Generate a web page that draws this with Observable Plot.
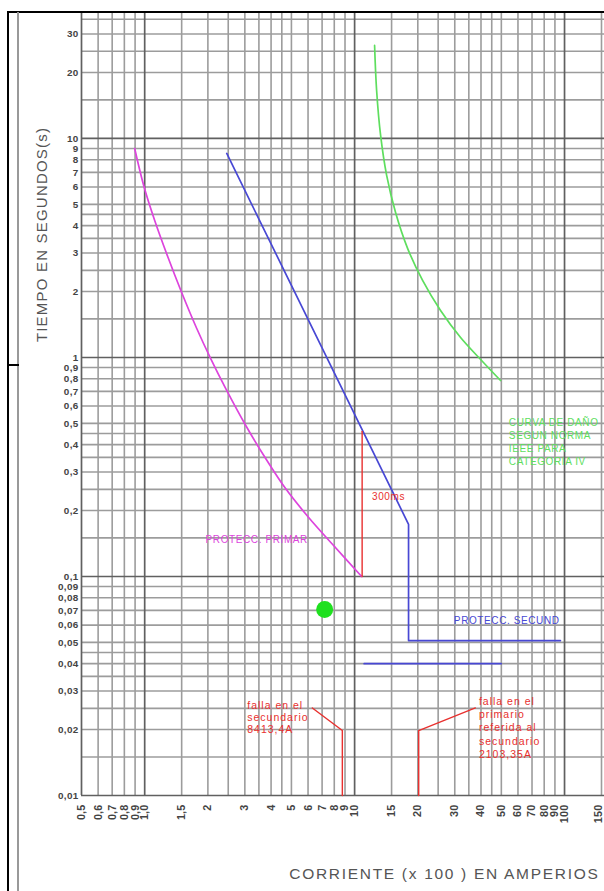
<!DOCTYPE html>
<html><head><meta charset="utf-8">
<script src="https://cdn.jsdelivr.net/npm/d3@7"></script>
<script src="https://cdn.jsdelivr.net/npm/@observablehq/plot@0.6"></script>
<style>
html,body{margin:0;padding:0;background:#fff;}
#wrap{position:relative;width:604px;height:891px;overflow:hidden;background:#fff;}
#wrap svg{position:absolute;left:0;top:0;}
.deco{position:absolute;}
svg g[aria-label="text"] text{letter-spacing:0.6px;}
svg g[aria-label="text"][font-size="10.5"] text{letter-spacing:1px;}
svg g[aria-label="text"][font-size="15"] text{letter-spacing:1.2px;}
svg g[aria-label="text"][font-size="15.5"] text{letter-spacing:1.7px;}
svg g[aria-label="text"][font-size="10.8"] text{letter-spacing:0.2px;}
svg g[aria-label="text"][font-size="9.9"] text{letter-spacing:0.3px;}
</style></head><body>
<div id="wrap">
  <div class="deco" style="left:8px;top:11px;width:596px;height:2px;background:#000"></div>
  <div class="deco" style="left:7px;top:11px;width:2px;height:880px;background:#000"></div>
  <div class="deco" style="left:17px;top:12px;width:2px;height:879px;background:#999"></div>
  <div class="deco" style="left:8px;top:364px;width:11px;height:2px;background:#000"></div>
</div>
<script>
// ---- axis ticks ----
const xTicks = [0.5,0.6,0.7,0.8,0.9,1,1.5,2,3,4,5,6,7,8,9,10,15,20,30,40,50,60,70,80,90,100,150];
const xTickLabels = ["0,5","0,6","0,7","0,8","0,9","1,0","1,5","2","3","4","5","6","7","8","9","10","15","20","30","40","50","60","70","80","90","100","150"];
const yTicks = [0.01,0.02,0.03,0.04,0.05,0.06,0.07,0.08,0.09,0.1,0.2,0.3,0.4,0.5,0.6,0.7,0.8,0.9,1,2,3,4,5,6,7,8,9,10,20,30];
const yTickLabels = ["0,01","0,02","0,03","0,04","0,05","0,06","0,07","0,08","0,09","0,1","0,2","0,3","0,4","0,5","0,6","0,7","0,8","0,9","1","2","3","4","5","6","7","8","9","10","20","30"];

// ---- log paper grid ----
const gridMajorX = [0.5,1,10,100];
const gridMinorX = [0.6,0.7,0.8,0.9,1.5,2,2.5,3,3.5,4,4.5,5,6,7,8,9,15,20,25,30,35,40,45,50,60,70,80,90,150];
const gridMajorY = [0.01,0.1,1,10];
const gridMinorY = [0.015,0.02,0.025,0.03,0.035,0.04,0.045,0.05,0.06,0.07,0.08,0.09,
                    0.15,0.2,0.25,0.3,0.35,0.4,0.45,0.5,0.6,0.7,0.8,0.9,
                    1.5,2,2.5,3,3.5,4,4.5,5,6,7,8,9,15,20,25,30,35];

// ---- curves (corriente x100 A, tiempo s) ----
const primaryI = [0.896, 0.989, 1.116, 1.287, 1.50, 1.77, 2.06, 2.43, 3.03, 3.77, 4.69, 6.04, 7.94, 10.8];
const primaryT = [9.0, 6.10, 4.22, 2.89, 1.98, 1.356, 0.99, 0.722, 0.489, 0.346, 0.252, 0.186, 0.1385, 0.1];

const secondaryI = [2.46, 18.07, 18.07, 95.6];
const secondaryT = [8.54, 0.173, 0.051, 0.051];
const secondary2I = [11.1, 49.9];
const secondary2T = [0.040, 0.040];

const damageI = [12.45, 12.73, 13.30, 14.21, 15.67, 17.88, 21.08, 25.67, 31.97, 40.25, 49.57];
const damageT = [26.6, 16.56, 10.32, 6.78, 4.59, 3.15, 2.25, 1.64, 1.234, 0.969, 0.785];

const marginI = [10.86, 10.86];
const marginT = [0.1, 0.46];

const fault1I = [6.29, 8.74, 8.74];
const fault1T = [0.0251, 0.0198, 0.01];
const fault2I = [37.6, 20.2, 20.2];
const fault2T = [0.0251, 0.0198, 0.01];

const pointI = [7.2];
const pointT = [0.0707];

// ---- annotations ----
const noteText = ["PROTECC. PRIMAR", "300ms", "PROTECC. SECUND",
  "CURVA DE DAÑO\nSEGUN NORMA\nIEEE PARA\nCATEGORIA IV",
  "falla en el\nsecundario\n8413,4A",
  "falla en el\nprimario\nreferida al\nsecundario\n2103,35A"];
const noteI = [1.95, 12.1, 29.7, 54.3, 3.08, 39.1];
const noteT = [0.1476, 0.232, 0.063, 0.4126, 0.0227, 0.0205];

const yTitle = "TIEMPO EN SEGUNDOS(s)";
const xTitle = "CORRIENTE (x 100 ) EN AMPERIOS";

const pts = (I, T) => I.map((v, i) => ({I: v, t: T[i]}));
const notes = noteText.map((s, i) => ({text: s, I: noteI[i], t: noteT[i]}));
const xTickData = xTicks.map((v, i) => ({v, label: xTickLabels[i], last: i === xTicks.length - 1}));

const MAG = "#dd44dd", BLUE = "#4848d4", GREEN = "#5ede5e", RED = "#e8302e";
const XTICK = {fontSize: 10.8, fontWeight: "bold", fill: "#444"};
const YTICK = {fontSize: 9.9, fontWeight: "bold", fill: "#444"};

const plot = Plot.plot({
  width: 604, height: 891,
  marginLeft: 81, marginTop: 12, marginRight: 0, marginBottom: 96,
  style: {fontFamily: "'Liberation Sans', Arial, sans-serif", background: "transparent", overflow: "visible"},
  x: {type: "log", domain: [0.5, 150], range: [81, 601], axis: null},
  y: {type: "log", domain: [0.01, 37.6], axis: null},
  marks: [
    Plot.ruleX(gridMinorX, {stroke: "#9c9c9c", strokeWidth: 1.6}),
    Plot.ruleY(gridMinorY, {stroke: "#9c9c9c", strokeWidth: 1.6}),
    Plot.ruleX(gridMajorX, {stroke: "#606060", strokeWidth: 1.7}),
    Plot.ruleY(gridMajorY, {stroke: "#606060", strokeWidth: 1.7}),
    Plot.text(xTickData.filter(d => !d.last), {x: "v", text: "label", frameAnchor: "bottom", dy: 9,
      rotate: -90, textAnchor: "end", lineAnchor: "middle", ...XTICK}),
    Plot.text(xTickData.filter(d => d.last), {x: "v", text: "label", frameAnchor: "bottom", dy: 9,
      rotate: -90, textAnchor: "end", lineAnchor: "bottom", ...XTICK}),
    Plot.text(yTicks, {y: d => d, text: (d, i) => yTickLabels[i], frameAnchor: "left", dx: -3,
      textAnchor: "end", lineAnchor: "middle", ...YTICK}),
    Plot.line(pts(damageI, damageT), {x: "I", y: "t", stroke: GREEN, strokeWidth: 1.7, curve: "catmull-rom"}),
    Plot.line(pts(primaryI, primaryT), {x: "I", y: "t", stroke: MAG, strokeWidth: 1.7, curve: "catmull-rom"}),
    Plot.line(pts(secondaryI, secondaryT), {x: "I", y: "t", stroke: BLUE, strokeWidth: 1.7}),
    Plot.line(pts(secondary2I, secondary2T), {x: "I", y: "t", stroke: BLUE, strokeWidth: 1.7}),
    Plot.line(pts(marginI, marginT), {x: "I", y: "t", stroke: RED, strokeWidth: 1.4}),
    Plot.line(pts(fault1I, fault1T), {x: "I", y: "t", stroke: RED, strokeWidth: 1.4}),
    Plot.line(pts(fault2I, fault2T), {x: "I", y: "t", stroke: RED, strokeWidth: 1.4}),
    Plot.dot(pts(pointI, pointT), {x: "I", y: "t", r: 8.5, fill: "#1fe01f", stroke: "none"}),
    Plot.text([notes[0]], {x: "I", y: "t", text: "text", fill: MAG, fontSize: 10, textAnchor: "start", lineAnchor: "middle"}),
    Plot.text([notes[1]], {x: "I", y: "t", text: "text", fill: RED, fontSize: 10, textAnchor: "start", lineAnchor: "middle"}),
    Plot.text([notes[2]], {x: "I", y: "t", text: "text", fill: BLUE, fontSize: 10, textAnchor: "start", lineAnchor: "middle"}),
    Plot.text([notes[3]], {x: "I", y: "t", text: "text", fill: GREEN, fontSize: 10, lineHeight: 1.3, textAnchor: "start", lineAnchor: "middle"}),
    Plot.text([notes[4]], {x: "I", y: "t", text: "text", fill: RED, fontSize: 10.5, lineHeight: 1.15, textAnchor: "start", lineAnchor: "middle"}),
    Plot.text([notes[5]], {x: "I", y: "t", text: "text", fill: RED, fontSize: 10.5, lineHeight: 1.25, textAnchor: "start", lineAnchor: "middle"}),
    Plot.text([yTitle], {text: d => d, frameAnchor: "top-left", dx: -39, dy: 222, rotate: -90,
      textAnchor: "middle", lineAnchor: "middle", fontSize: 15, fill: "#555"}),
    Plot.text([xTitle], {text: d => d, frameAnchor: "bottom-right", dx: -5, dy: 83,
      textAnchor: "end", lineAnchor: "bottom", fontSize: 15.5, fill: "#555"})
  ]
});
document.getElementById("wrap").prepend(plot);
</script>
</body></html>
